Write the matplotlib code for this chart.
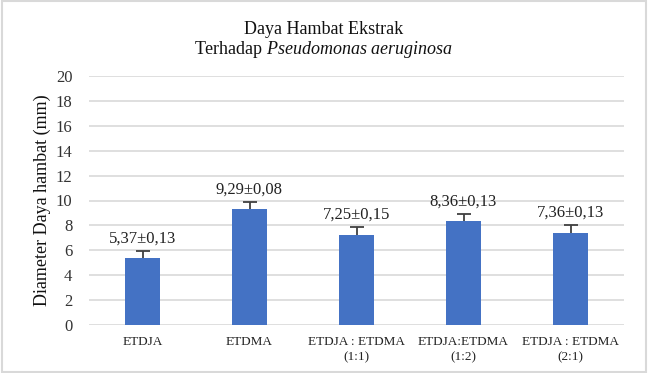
import matplotlib
matplotlib.use("Agg")
import matplotlib.pyplot as plt
from matplotlib.patches import Rectangle

categories = ["ETDJA", "ETDMA", "ETDJA : ETDMA\n(1:1)", "ETDJA:ETDMA\n(1:2)", "ETDJA : ETDMA\n(2:1)"]
values = [5.37, 9.29, 7.25, 8.36, 7.36]
errors = [0.6, 0.6, 0.65, 0.57, 0.67]
labels = ["5,37±0,13", "9,29±0,08", "7,25±0,15", "8,36±0,13", "7,36±0,13"]
yticks = list(range(0, 21, 2))

plt.rcParams['font.family'] = ['Liberation Serif', 'DejaVu Serif']
plt.rcParams['mathtext.fontset'] = 'custom'
plt.rcParams['mathtext.rm'] = 'Liberation Serif'
plt.rcParams['mathtext.it'] = 'Liberation Serif:italic'

fig = plt.figure(figsize=(6.48, 3.73), dpi=100)
ax = fig.add_axes([89/648, 1-325/373, (624-89)/648, (325-76)/373])

x = list(range(len(categories)))
ax.bar(x, values, width=0.32, color="#4472C4", zorder=2)
eb = ax.errorbar(x, values, yerr=[[0]*len(values), errors], fmt="none", ecolor="#404040",
                 elinewidth=1.3, capsize=5, capthick=1.3, zorder=3)
eb[1][0].set_visible(False)
for xi, v, e, lab in zip(x, values, errors, labels):
    ax.annotate(lab, (xi, v + e), xytext=(0, 3), textcoords="offset points",
                ha="center", va="bottom", fontsize=12, color="#222222")

ax.set_xlim(-0.5, len(categories) - 0.5)
ax.set_ylim(0, 20)
ax.set_yticks(yticks)
ax.set_yticklabels([str(t) for t in yticks], fontsize=12, color="#333333")
ax.set_xticks(x)
ax.set_xticklabels(categories, fontsize=9.5, color="#222222", linespacing=1.35)
ax.tick_params(axis="both", length=0, pad=8)
ax.tick_params(axis="y", pad=12)
ax.yaxis.grid(True, color="#D9D9D9", linewidth=1.2, zorder=0)
ax.set_axisbelow(True)
for s in ax.spines.values():
    s.set_visible(False)
ax.set_ylabel("Diameter Daya hambat (mm)", fontsize=13, color="#111111", labelpad=3)

fig.text(0.5, 1-30/373, "Daya Hambat Ekstrak", ha="center", va="center", fontsize=13, color="#111111")
fig.text(0.5, 1-50/373, "Terhadap $\\mathit{Pseudomonas\\ aeruginosa}$", ha="center", va="center",
         fontsize=13, color="#111111")

fig.patches.append(Rectangle((0.003, 0.004), 0.994, 0.992, transform=fig.transFigure,
                             fill=False, edgecolor="#D9D9D9", linewidth=1.5))
fig.savefig("out.png", dpi=100)
